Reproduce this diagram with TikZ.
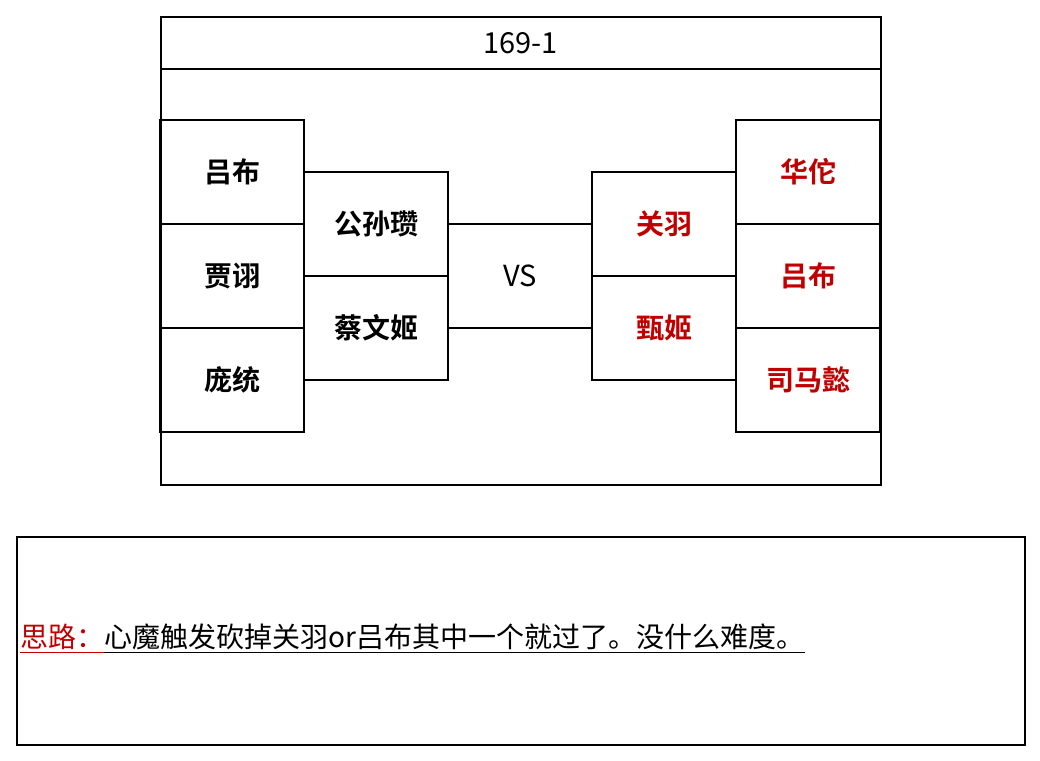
\documentclass[tikz,border=0pt]{standalone}
\usepackage{fontspec}
\setmainfont{Noto Sans CJK SC}[BoldFont={Noto Sans CJK SC Bold}]
\usetikzlibrary{calc}
\definecolor{hero}{HTML}{C00000}
\begin{document}
\begin{tikzpicture}[x=1pt,y=-1pt,
  frame/.style={draw=black,line width=1.6pt},
  cell/.style={draw=black,line width=1.6pt,minimum width=144pt,minimum height=104pt,inner sep=0pt,font=\fontsize{28}{32}\selectfont\bfseries},
  foe/.style={cell,text=hero},
  wire/.style={draw=black,line width=1.6pt}]
\useasboundingbox (0,0) rectangle (1040,760);
% top frame
\node[frame,minimum width=720pt,minimum height=468pt,inner sep=0pt,anchor=north west] (top) at (160,16) {};
\node[frame,minimum width=720pt,minimum height=52pt,inner sep=0pt,anchor=north west,font=\fontsize{29}{32}\selectfont] (title) at (160,16) {169-1};
% left team
\node[cell] (a1) at (232,172) {吕布};
\node[cell] (a2) at (232,276) {贾诩};
\node[cell] (a3) at (232,380) {庞统};
\node[cell] (b1) at (376,224) {公孙瓒};
\node[cell] (b2) at (376,328) {蔡文姬};
% right team
\node[foe] (c1) at (664,224) {关羽};
\node[foe] (c2) at (664,328) {甄姬};
\node[foe] (d1) at (808,172) {华佗};
\node[foe] (d2) at (808,276) {吕布};
\node[foe] (d3) at (808,380) {司马懿};
\node[font=\fontsize{29}{32}\selectfont] (vs) at (520,276) {VS};
\draw[wire] (b1.east) -- (c1.west);
\draw[wire] (b2.east) -- (c2.west);
% bottom note
\node[frame,minimum width=1008pt,minimum height=208pt,inner sep=0pt,anchor=north west] (note) at (16,536) {};
\node[anchor=base west,inner sep=0pt,text=hero,font=\fontsize{28}{32}\selectfont] (t1) at (20,647) {思路：};
\node[anchor=base west,inner sep=0pt,font=\fontsize{28}{32}\selectfont] (t2) at (t1.base east) {心魔触发砍掉关羽or吕布其中一个就过了。没什么难度。};
\draw[hero,line width=1.5pt] ($(t1.base west)+(0,5.5)$) -- ($(t1.base east)+(0,5.5)$);
\draw[black,line width=1.5pt] ($(t2.base west)+(0,5.5)$) -- ($(t2.base east)+(0,5.5)$);
\end{tikzpicture}
\end{document}
